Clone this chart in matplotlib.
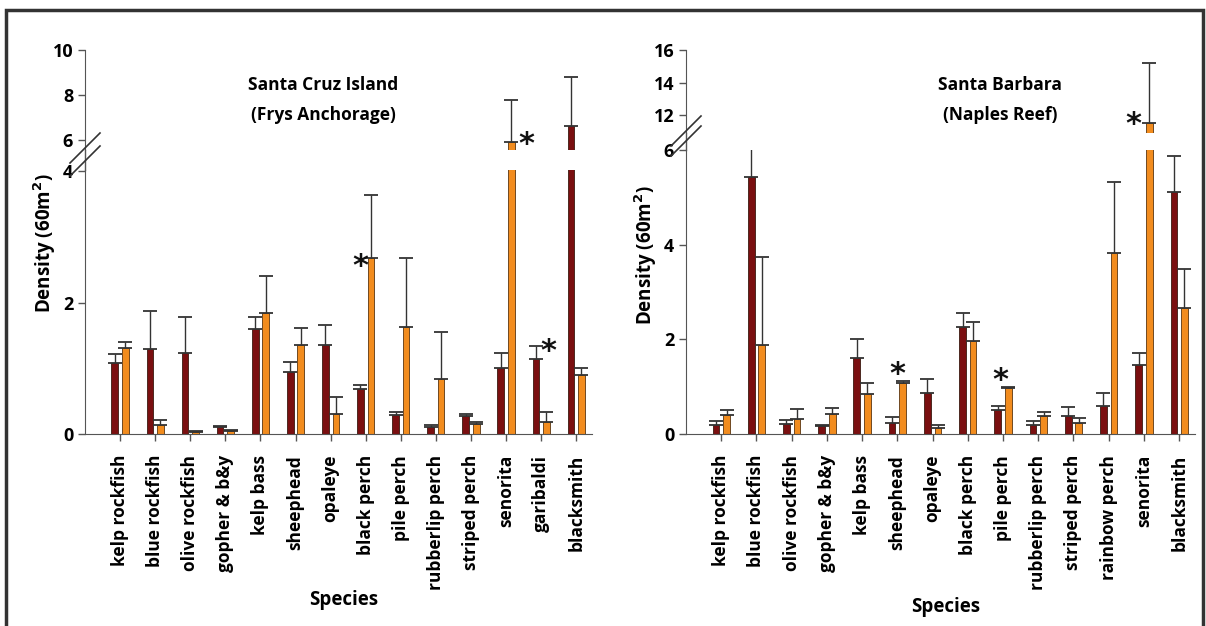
import matplotlib.pyplot as plt
import numpy as np
from matplotlib.lines import Line2D
from matplotlib.patches import Rectangle

plt.rcParams["font.family"] = ["Open Sans", "DejaVu Sans"]
plt.rcParams["font.weight"] = "bold"

RED = "#7a0f10"
ORANGE = "#f28c1e"
AXC = "#555555"

# Santa Cruz Island (Frys Anchorage)
scruz_species = ["kelp rockfish", "blue rockfish", "olive rockfish", "gopher & b&y",
                 "kelp bass", "sheephead", "opaleye", "black perch", "pile perch",
                 "rubberlip perch", "striped perch", "senorita", "garibaldi", "blacksmith"]
scruz_red = [1.08, 1.29, 1.23, 0.10, 1.60, 0.94, 1.36, 0.68, 0.29, 0.10, 0.28, 1.00, 1.14, 6.62]
scruz_red_top = [1.22, 1.87, 1.78, 0.12, 1.78, 1.09, 1.66, 0.74, 0.34, 0.13, 0.31, 1.23, 1.34, 8.81]
scruz_orange = [1.31, 0.14, 0.03, 0.05, 1.84, 1.36, 0.30, 2.68, 1.63, 0.84, 0.15, 5.92, 0.19, 0.90]
scruz_orange_top = [1.40, 0.21, 0.05, 0.06, 2.40, 1.61, 0.56, 3.64, 2.68, 1.56, 0.18, 7.78, 0.33, 1.01]
scruz_stars = [(7, -0.15, 2.55), (11, 0.57, 5.80), (12, 0.21, 1.25)]

# Santa Barbara (Naples Reef)
sb_species = ["kelp rockfish", "blue rockfish", "olive rockfish", "gopher & b&y",
              "kelp bass", "sheephead", "opaleye", "black perch", "pile perch",
              "rubberlip perch", "striped perch", "rainbow perch", "senorita", "blacksmith"]
sb_red = [0.18, 5.44, 0.21, 0.17, 1.60, 0.24, 0.86, 2.26, 0.51, 0.20, 0.38, 0.59, 1.46, 5.12]
sb_red_top = [0.27, 6.10, 0.30, 0.19, 2.00, 0.35, 1.16, 2.56, 0.59, 0.27, 0.56, 0.87, 1.71, 5.88]
sb_orange = [0.40, 1.87, 0.31, 0.42, 0.84, 1.08, 0.13, 1.97, 0.98, 0.37, 0.24, 3.83, 11.5, 2.66]
sb_orange_top = [0.51, 3.73, 0.53, 0.55, 1.07, 1.12, 0.20, 2.37, 1.00, 0.46, 0.34, 5.33, 15.2, 3.49]
sb_stars = [(5, 0.0, 1.25), (8, -0.08, 1.14), (12, -0.30, 11.45)]

W, H = 1206, 626
fig = plt.figure(figsize=(W / 100, H / 100), dpi=100)


def fx(px):
    return px / W


def fy(py):
    return 1 - py / H


def panel(x0, x1, low_top, up_bot, up_top, low_lim, up_lim, low_ticks, up_ticks,
          species, red, red_top, orange, orange_top, stars, title, title_x,
          ylab_y, xlab_y):
    ax_lo = fig.add_axes([fx(x0), fy(434), fx(x1 - x0), fy(low_top) - fy(434)])
    ax_up = fig.add_axes([fx(x0), fy(up_bot), fx(x1 - x0), fy(up_top) - fy(up_bot)])
    x = np.arange(len(species))
    red = np.array(red)
    orange = np.array(orange)
    for ax in (ax_lo, ax_up):
        ax.bar(x - 0.15, red, 0.19, color=RED, edgecolor="#3a1a10", linewidth=0.6,
               yerr=[np.zeros_like(red), np.array(red_top) - red],
               error_kw=dict(ecolor="#333333", elinewidth=1, capsize=5, capthick=1.3))
        ax.bar(x + 0.15, orange, 0.19, color=ORANGE, edgecolor="#5a3510", linewidth=0.6,
               yerr=[np.zeros_like(orange), np.array(orange_top) - orange],
               error_kw=dict(ecolor="#333333", elinewidth=1, capsize=5, capthick=1.3))
        ax.set_xlim(-1.0, len(species) - 0.55)
        ax.set_facecolor("none")
        for s in ("top", "right"):
            ax.spines[s].set_visible(False)
        ax.spines["left"].set_color(AXC)
        ax.spines["bottom"].set_color(AXC)
        ax.tick_params(axis="y", colors=AXC, labelcolor="black", labelsize=13,
                       length=5, width=1)
    ax_lo.set_ylim(*low_lim)
    ax_up.set_ylim(*up_lim)
    ax_lo.set_yticks(low_ticks)
    ax_up.set_yticks(up_ticks)
    ax_up.spines["bottom"].set_visible(False)
    ax_up.set_xticks([])
    ax_lo.set_xticks(x)
    ax_lo.set_xticklabels(species, rotation=90, fontsize=12.5, fontweight="bold")
    ax_lo.tick_params(axis="x", colors=AXC, labelcolor="black", length=5, width=1,
                      pad=10)
    for cat, off, yv in stars:
        target = ax_up if yv > low_lim[1] else ax_lo
        target.text(cat + off, yv, "*", ha="center", va="center", fontsize=22,
                    fontweight="bold", color="#111111", family="DejaVu Sans")
    # continuous axis line through the break
    fig.add_artist(Line2D([fx(x0), fx(x0)], [fy(low_top), fy(up_bot)], color=AXC, lw=1))
    # break marks
    for yb in (low_top - 4, up_bot + 3):
        fig.add_artist(Line2D([fx(x0 - 15), fx(x0 + 15)], [fy(yb + 10), fy(yb - 20)],
                              color="#333333", lw=1.2))
    fig.text(fx(title_x), fy(100), title, ha="center", va="center", fontsize=12.5,
             fontweight="bold", linespacing=1.9)
    fig.text(fx(x0 - 40), fy(ylab_y), r"Density (60m$^\mathbf{2}$)", rotation=90,
             ha="center", va="center", fontsize=13.5, fontweight="bold")
    fig.text(fx((x0 + x1) / 2 + 5), fy(xlab_y), "Species", ha="center", va="center",
             fontsize=13.5, fontweight="bold")


panel(85, 592, 170, 150, 50, (0, 4.02), (5.56, 10.0), [0, 2, 4], [6, 8, 10],
      scruz_species, scruz_red, scruz_red_top, scruz_orange, scruz_orange_top,
      scruz_stars, "Santa Cruz Island\n(Frys Anchorage)", 323, 243, 600)
panel(686, 1195, 150, 133, 50, (0, 6.0), (10.9, 16.0), [0, 2, 4, 6], [12, 14, 16],
      sb_species, sb_red, sb_red_top, sb_orange, sb_orange_top,
      sb_stars, "Santa Barbara\n(Naples Reef)", 1000, 255, 607)

fig.add_artist(Rectangle((fx(6), -0.05), fx(1197), fy(10) + 0.05, fill=False,
                         edgecolor="#333333", lw=2.5, transform=fig.transFigure))

plt.savefig("out.png", dpi=100)
plt.close()
